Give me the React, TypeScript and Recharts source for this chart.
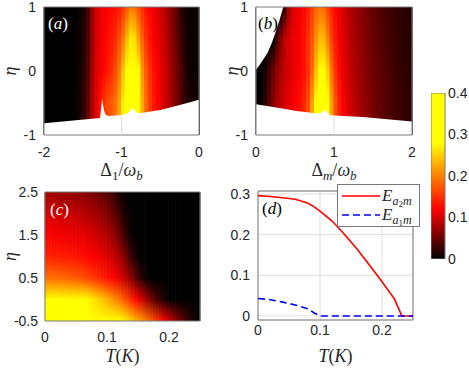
import React from "react"
import {
  BarChart, Bar, Cell, XAxis, YAxis, ComposedChart, Area, LineChart, Line,
  CartesianGrid, ReferenceLine, ReferenceArea,
} from "recharts"

// colour scale
const CMAP_VALUES = [0, 0.12, 0.28, 0.4]
const CMAP_COLORS = ["#000000", "#ff0000", "#ffff00", "#ffff00"]
const CB_TICKS = [0, 0.1, 0.2, 0.3, 0.4]

// (a) columns in Delta_1/omega_b, rows in eta
const A_X = [-1.975, -1.925, -1.875, -1.825, -1.775, -1.725, -1.675, -1.625, -1.575, -1.525, -1.475, -1.425, -1.375, -1.325, -1.275, -1.225, -1.175, -1.125, -1.075, -1.025, -0.975, -0.925, -0.875, -0.825, -0.775, -0.725, -0.675, -0.625, -0.575, -0.525, -0.475, -0.425, -0.375, -0.325, -0.275, -0.225, -0.175, -0.125, -0.075, -0.025]
const A_ETA = [1, 0.5, 0, -0.5]
const A_ROW_1 = [0, 0, 0, 0, 0, 0, 0, 0, 0.002, 0.006, 0.015, 0.035, 0.07, 0.095, 0.108, 0.115, 0.12, 0.123, 0.127, 0.135, 0.15, 0.172, 0.195, 0.19, 0.17, 0.148, 0.13, 0.12, 0.112, 0.104, 0.095, 0.085, 0.07, 0.055, 0.04, 0.02, 0.01, 0.005, 0.004, 0.008]
const A_ROW_05 = [0, 0, 0, 0, 0, 0, 0, 0, 0.003, 0.008, 0.018, 0.038, 0.072, 0.097, 0.11, 0.118, 0.126, 0.134, 0.146, 0.166, 0.196, 0.235, 0.27, 0.26, 0.22, 0.18, 0.15, 0.132, 0.12, 0.11, 0.1, 0.09, 0.076, 0.06, 0.045, 0.028, 0.014, 0.006, 0.004, 0.006]
const A_ROW_0 = [0, 0, 0, 0, 0, 0, 0, 0, 0.004, 0.01, 0.02, 0.042, 0.075, 0.1, 0.113, 0.123, 0.135, 0.148, 0.165, 0.195, 0.24, 0.3, 0.36, 0.34, 0.28, 0.215, 0.175, 0.148, 0.13, 0.118, 0.107, 0.095, 0.082, 0.067, 0.052, 0.035, 0.02, 0.008, 0.004, 0.005]
const A_ROW_M05 = [0, 0, 0, 0, 0, 0, 0, 0, 0.005, 0.012, 0.025, 0.048, 0.08, 0.105, 0.125, 0.15, 0.165, 0.175, 0.19, 0.22, 0.27, 0.33, 0.4, 0.38, 0.3, 0.23, 0.185, 0.155, 0.135, 0.12, 0.108, 0.096, 0.083, 0.068, 0.053, 0.037, 0.022, 0.015, 0.012, 0.01]
const A_EDGE_X = [-2, -1.277, -1.262, -1.25, -1.238, -1.222, -1.204, -1.16, -1.0, -0.925, -0.89, -0.86, -0.83, -0.8, -0.774, -0.5, -0.2, 0]
const A_EDGE_ETA = [-0.817, -0.733, -0.56, -0.43, -0.53, -0.63, -0.686, -0.702, -0.686, -0.665, -0.625, -0.575, -0.615, -0.65, -0.66, -0.608, -0.514, -0.451]

// (b) columns in Delta_m/omega_b
const B_X = [0.025, 0.075, 0.125, 0.175, 0.225, 0.275, 0.325, 0.375, 0.425, 0.475, 0.525, 0.575, 0.625, 0.675, 0.725, 0.775, 0.825, 0.875, 0.925, 0.975, 1.025, 1.075, 1.125, 1.175, 1.225, 1.275, 1.325, 1.375, 1.425, 1.475, 1.525, 1.575, 1.625, 1.675, 1.725, 1.775, 1.825, 1.875, 1.925, 1.975]
const B_ETA = [1, 0.5, 0, -0.5]
const B_ROW_1 = [0, 0, 0, 0, 0, 0, 0, 0.02, 0.075, 0.1, 0.11, 0.115, 0.125, 0.14, 0.16, 0.18, 0.19, 0.185, 0.16, 0.14, 0.12, 0.11, 0.1, 0.09, 0.082, 0.075, 0.068, 0.062, 0.056, 0.05, 0.045, 0.04, 0.036, 0.032, 0.029, 0.026, 0.023, 0.02, 0.018, 0.016]
const B_ROW_05 = [0, 0, 0, 0, 0, 0.03, 0.065, 0.09, 0.1, 0.108, 0.115, 0.122, 0.132, 0.15, 0.175, 0.21, 0.235, 0.235, 0.2, 0.16, 0.135, 0.118, 0.105, 0.095, 0.086, 0.078, 0.071, 0.065, 0.059, 0.053, 0.048, 0.043, 0.039, 0.035, 0.031, 0.028, 0.025, 0.022, 0.02, 0.018]
const B_ROW_0 = [0, 0, 0.01, 0.03, 0.05, 0.068, 0.082, 0.093, 0.1, 0.107, 0.113, 0.12, 0.13, 0.15, 0.185, 0.24, 0.3, 0.31, 0.25, 0.19, 0.15, 0.125, 0.11, 0.1, 0.09, 0.082, 0.075, 0.068, 0.062, 0.056, 0.05, 0.046, 0.042, 0.038, 0.034, 0.03, 0.027, 0.024, 0.021, 0.019]
const B_ROW_M05 = [0, 0.005, 0.02, 0.04, 0.06, 0.078, 0.09, 0.1, 0.108, 0.115, 0.122, 0.13, 0.145, 0.17, 0.22, 0.3, 0.38, 0.4, 0.32, 0.22, 0.17, 0.14, 0.12, 0.107, 0.097, 0.088, 0.08, 0.073, 0.066, 0.06, 0.054, 0.049, 0.044, 0.04, 0.036, 0.032, 0.029, 0.026, 0.023, 0.021]
const B_LO_X = [0, 0.3, 0.52, 0.76, 0.82, 0.86, 0.885, 0.91, 0.95, 1.0, 1.37, 2]
const B_LO_ETA = [-0.52, -0.58, -0.624, -0.66, -0.665, -0.63, -0.608, -0.64, -0.69, -0.695, -0.72, -0.79]
const B_TOP_X = [0, 0.05, 0.1, 0.15, 0.2, 0.25, 0.3, 0.35]
const B_TOP_ETA = [0.02, 0.1, 0.19, 0.29, 0.43, 0.6, 0.79, 1]

// (c) columns in T(K)
const C_X = [0.0025, 0.0075, 0.0125, 0.0175, 0.0225, 0.0275, 0.0325, 0.0375, 0.0425, 0.0475, 0.0525, 0.0575, 0.0625, 0.0675, 0.0725, 0.0775, 0.0825, 0.0875, 0.0925, 0.0975, 0.1025, 0.1075, 0.1125, 0.1175, 0.1225, 0.1275, 0.1325, 0.1375, 0.1425, 0.1475, 0.1525, 0.1575, 0.1625, 0.1675, 0.1725, 0.1775, 0.1825, 0.1875, 0.1925, 0.1975, 0.2025, 0.2075, 0.2125, 0.2175, 0.2225, 0.2275, 0.2325, 0.2375, 0.2425, 0.2475]
const C_ETA = [2.5, 2, 1.5, 1, 0.5, 0, -0.5]
const C_ROW_25 = [0.075, 0.075, 0.074, 0.073, 0.072, 0.071, 0.07, 0.069, 0.068, 0.067, 0.065, 0.064, 0.062, 0.06, 0.058, 0.056, 0.053, 0.05, 0.046, 0.042, 0.037, 0.031, 0.024, 0.016, 0.009, 0.004, 0.001, 0, 0, 0, 0, 0, 0, 0, 0, 0, 0, 0, 0, 0, 0, 0, 0, 0, 0, 0, 0, 0, 0, 0]
const C_ROW_2 = [0.1, 0.1, 0.099, 0.098, 0.097, 0.096, 0.095, 0.094, 0.093, 0.092, 0.09, 0.088, 0.086, 0.084, 0.082, 0.079, 0.076, 0.072, 0.068, 0.063, 0.058, 0.052, 0.044, 0.035, 0.025, 0.016, 0.009, 0.004, 0.001, 0, 0, 0, 0, 0, 0, 0, 0, 0, 0, 0, 0, 0, 0, 0, 0, 0, 0, 0, 0, 0]
const C_ROW_15 = [0.118, 0.118, 0.117, 0.117, 0.116, 0.115, 0.114, 0.113, 0.112, 0.111, 0.11, 0.108, 0.107, 0.105, 0.103, 0.1, 0.097, 0.094, 0.09, 0.086, 0.081, 0.075, 0.068, 0.058, 0.046, 0.033, 0.02, 0.01, 0.004, 0.001, 0, 0, 0, 0, 0, 0, 0, 0, 0, 0, 0, 0, 0, 0, 0, 0, 0, 0, 0, 0]
const C_ROW_1 = [0.14, 0.14, 0.139, 0.139, 0.138, 0.137, 0.136, 0.135, 0.134, 0.132, 0.131, 0.129, 0.127, 0.125, 0.122, 0.12, 0.117, 0.114, 0.11, 0.106, 0.102, 0.097, 0.091, 0.084, 0.075, 0.063, 0.048, 0.033, 0.02, 0.01, 0.004, 0.001, 0, 0, 0, 0, 0, 0, 0, 0, 0, 0, 0, 0, 0, 0, 0, 0, 0, 0]
const C_ROW_05 = [0.19, 0.19, 0.189, 0.188, 0.187, 0.186, 0.184, 0.182, 0.18, 0.178, 0.175, 0.172, 0.169, 0.165, 0.161, 0.157, 0.152, 0.147, 0.142, 0.136, 0.13, 0.124, 0.118, 0.111, 0.104, 0.095, 0.085, 0.072, 0.057, 0.042, 0.028, 0.016, 0.008, 0.003, 0.001, 0, 0, 0, 0, 0, 0, 0, 0, 0, 0, 0, 0, 0, 0, 0]
const C_ROW_0 = [0.31, 0.31, 0.31, 0.309, 0.308, 0.306, 0.304, 0.302, 0.299, 0.296, 0.292, 0.288, 0.283, 0.278, 0.272, 0.266, 0.259, 0.252, 0.244, 0.236, 0.228, 0.219, 0.21, 0.2, 0.19, 0.178, 0.165, 0.152, 0.138, 0.124, 0.11, 0.096, 0.082, 0.068, 0.055, 0.043, 0.032, 0.022, 0.013, 0.006, 0.002, 0, 0, 0, 0, 0, 0, 0, 0, 0]
const C_ROW_M05 = [0.38, 0.38, 0.379, 0.378, 0.377, 0.376, 0.374, 0.372, 0.37, 0.367, 0.364, 0.361, 0.357, 0.353, 0.349, 0.344, 0.339, 0.333, 0.327, 0.321, 0.314, 0.307, 0.299, 0.291, 0.283, 0.274, 0.265, 0.255, 0.245, 0.234, 0.223, 0.212, 0.2, 0.188, 0.175, 0.162, 0.149, 0.136, 0.122, 0.108, 0.095, 0.082, 0.069, 0.056, 0.045, 0.034, 0.024, 0.015, 0.008, 0.003]

// (d) entanglement vs temperature
const D_T = [0, 0.02, 0.04, 0.06, 0.08, 0.09, 0.1, 0.12, 0.14, 0.16, 0.18, 0.2, 0.22, 0.232, 0.25]
const D_A2M = [0.296, 0.294, 0.291, 0.287, 0.278, 0.269, 0.258, 0.233, 0.2, 0.164, 0.125, 0.084, 0.042, 0, 0]
const D_A1M = [0.043, 0.04, 0.034, 0.027, 0.018, 0.008, 0, 0, 0, 0, 0, 0, 0, 0, 0]

const A_XTICKS = [-2, -1, 0]
const AB_YTICKS = [-1, 0, 1]
const B_XTICKS = [0, 1, 2]
const C_XTICKS = [0, 0.1, 0.2]
const C_YTICKS = [-0.5, 0.5, 1.5, 2.5]
const D_XTICKS = [0, 0.1, 0.2]
const D_YTICKS = [0, 0.1, 0.2, 0.3]

const SANS = "'Liberation Sans', Arial, sans-serif"
const SERIF = "'Liberation Serif', 'Times New Roman', serif"
const INK = "#262626"
const FRAME = "#7a7a7a"
const GRID = "#dedede"
const TICK = { fontSize: 14, fill: INK, fontFamily: SANS }

const PAD_L = 50
const PAD_T = 10
const PAD_R = 4
const PAD_B = 52

function hexToRgb(h: string) {
  return [1, 3, 5].map((k) => parseInt(h.slice(k, k + 2), 16))
}

function heat(v: number) {
  const last = CMAP_VALUES.length - 1
  const c = Math.max(CMAP_VALUES[0], Math.min(v, CMAP_VALUES[last]))
  let i = 0
  while (i < last - 1 && c > CMAP_VALUES[i + 1]) i++
  const t = (c - CMAP_VALUES[i]) / (CMAP_VALUES[i + 1] - CMAP_VALUES[i])
  const a = hexToRgb(CMAP_COLORS[i])
  const b = hexToRgb(CMAP_COLORS[i + 1])
  const rgb = a.map((p, k) => Math.round(p + (b[k] - p) * t))
  return `rgb(${rgb.join(",")})`
}

function XLabel(props: any) {
  const { viewBox, kind, drop } = props
  const x = viewBox.x + viewBox.width / 2
  const y = viewBox.y + drop
  let parts: React.ReactNode
  if (kind === "T") {
    parts = [
      <tspan key="1" fontStyle="italic">T</tspan>,
      <tspan key="2">(</tspan>,
      <tspan key="3" fontStyle="italic">K</tspan>,
      <tspan key="4">)</tspan>,
    ]
  } else {
    parts = [
      <tspan key="1">Δ</tspan>,
      <tspan key="2" fontSize={13} dy={4} fontStyle={kind === "m" ? "italic" : "normal"}>{kind === "m" ? "m" : "1"}</tspan>,
      <tspan key="3" dy={-4}>/</tspan>,
      <tspan key="4" fontStyle="italic">ω</tspan>,
      <tspan key="5" fontSize={13} dy={4} fontStyle="italic">b</tspan>,
    ]
  }
  return (
    <text x={x} y={y} textAnchor="middle" fontFamily={SERIF} fontSize={18} fill={INK}>
      {parts}
    </text>
  )
}

function EtaLabel(props: any) {
  const { viewBox, left } = props
  const x = viewBox.x + left
  const y = viewBox.y + viewBox.height / 2
  return (
    <text x={x} y={y} transform={`rotate(-90, ${x}, ${y})`} textAnchor="middle"
      fontFamily={SERIF} fontStyle="italic" fontSize={18} fill={INK}>η</text>
  )
}

function HeatMap({ id, cols, etas, rows, yDomain, w, h }: any) {
  const [y0, y1] = yDomain
  const data = cols.map((x: number) => ({ x, span: [y0, y1] }))
  return (
    <BarChart width={w + PAD_L + PAD_R} height={h + PAD_T + PAD_B} data={data}
      margin={{ top: PAD_T, right: PAD_R, left: PAD_L, bottom: PAD_B }} barCategoryGap={0} barGap={0}>
      <defs>
        {cols.map((_: number, i: number) => (
          <linearGradient key={i} id={`${id}${i}`} x1="0" y1="0" x2="0" y2="1">
            {etas.map((eta: number, r: number) => (
              <stop key={r} offset={(y1 - eta) / (y1 - y0)} stopColor={heat(rows[r][i])} />
            ))}
          </linearGradient>
        ))}
      </defs>
      <XAxis dataKey="x" type="category" hide />
      <YAxis type="number" domain={yDomain} hide allowDataOverflow />
      <Bar dataKey="span" isAnimationActive={false}>
        {cols.map((_: number, i: number) => (
          <Cell key={i} fill={`url(#${id}${i})`} stroke={`url(#${id}${i})`} strokeWidth={1} />
        ))}
      </Bar>
    </BarChart>
  )
}

function xAxisProps(domain: number[], ticks: number[], margin: number) {
  return {
    type: "number" as const, dataKey: "x", domain, ticks, interval: 0 as const, height: PAD_B,
    tickSize: 0, tickMargin: margin, tickLine: false, axisLine: false, tick: TICK, allowDataOverflow: true,
  }
}

function yAxisProps(domain: number[], ticks: number[], margin: number) {
  return {
    type: "number" as const, domain, ticks, interval: 0 as const, width: PAD_L,
    tickSize: 0, tickMargin: margin, tickLine: false, axisLine: false, tick: TICK, allowDataOverflow: true,
  }
}

function Slot({ left, top, children }: any) {
  return <div style={{ position: "absolute", left: left - PAD_L, top: top - PAD_T }}>{children}</div>
}

function Layer({ children }: any) {
  return <div style={{ position: "absolute", left: 0, top: 0 }}>{children}</div>
}

function pick(xs: number[], ys: number[], x: number) {
  const i = xs.indexOf(x)
  return i < 0 ? null : ys[i]
}

function PanelA() {
  const w = 155, h = 128
  const edge = A_EDGE_X.map((x, i) => ({ x, lo: A_EDGE_ETA[i] }))
  return (
    <Slot left={44} top={7}>
      <Layer>
        <HeatMap id="ga" cols={A_X} etas={A_ETA} rows={[A_ROW_1, A_ROW_05, A_ROW_0, A_ROW_M05]} yDomain={[-1, 1]} w={w} h={h} />
      </Layer>
      <Layer>
        <ComposedChart width={w + PAD_L + PAD_R} height={h + PAD_T + PAD_B} data={edge}
          margin={{ top: PAD_T, right: PAD_R, left: 0, bottom: 0 }}>
          <XAxis {...xAxisProps([-2, 0], A_XTICKS, 12)} label={<XLabel kind="1" drop={41} />} />
          <YAxis {...yAxisProps([-1, 1], AB_YTICKS, 8)} label={<EtaLabel left={22} />} />
          <Area type="linear" dataKey={(d: any) => [-1, d.lo]} fill="#ffffff" fillOpacity={1} stroke="none"
            dot={false} activeDot={false} isAnimationActive={false} />
          <ReferenceLine segment={[{ x: -1, y: -1 }, { x: -1, y: pick(A_EDGE_X, A_EDGE_ETA, -1) as number }]} stroke={GRID} />
          <ReferenceArea x1={-2} x2={0} y1={-1} y2={1} fill="none" stroke={FRAME} />
        </ComposedChart>
      </Layer>
    </Slot>
  )
}

function PanelB() {
  const w = 156, h = 128
  const xs = Array.from(new Set([...B_LO_X, ...B_TOP_X])).sort((p, q) => p - q)
  const edge = xs.map((x) => ({ x, lo: pick(B_LO_X, B_LO_ETA, x), hi: pick(B_TOP_X, B_TOP_ETA, x) }))
  return (
    <Slot left={256} top={7}>
      <Layer>
        <HeatMap id="gb" cols={B_X} etas={B_ETA} rows={[B_ROW_1, B_ROW_05, B_ROW_0, B_ROW_M05]} yDomain={[-1, 1]} w={w} h={h} />
      </Layer>
      <Layer>
        <ComposedChart width={w + PAD_L + PAD_R} height={h + PAD_T + PAD_B} data={edge}
          margin={{ top: PAD_T, right: PAD_R, left: 0, bottom: 0 }}>
          <XAxis {...xAxisProps([0, 2], B_XTICKS, 12)} label={<XLabel kind="m" drop={41} />} />
          <YAxis {...yAxisProps([-1, 1], AB_YTICKS, 8)} label={<EtaLabel left={32} />} />
          <Area type="linear" dataKey={(d: any) => (d.lo == null ? null : [-1, d.lo])} connectNulls fill="#ffffff"
            fillOpacity={1} stroke="none" dot={false} activeDot={false} isAnimationActive={false} />
          <Area type="linear" dataKey={(d: any) => (d.hi == null ? null : [d.hi, 1])} connectNulls fill="#ffffff"
            fillOpacity={1} stroke="none" dot={false} activeDot={false} isAnimationActive={false} />
          <ReferenceLine segment={[{ x: 1, y: -1 }, { x: 1, y: pick(B_LO_X, B_LO_ETA, 1) as number }]} stroke={GRID} />
          <ReferenceArea x1={0} x2={2} y1={-1} y2={1} fill="none" stroke={FRAME} />
        </ComposedChart>
      </Layer>
    </Slot>
  )
}

function PanelC() {
  const w = 155, h = 129
  const pts = C_X.map((x) => ({ x }))
  return (
    <Slot left={45} top={192}>
      <Layer>
        <HeatMap id="gc" cols={C_X} etas={C_ETA}
          rows={[C_ROW_25, C_ROW_2, C_ROW_15, C_ROW_1, C_ROW_05, C_ROW_0, C_ROW_M05]} yDomain={[-0.5, 2.5]} w={w} h={h} />
      </Layer>
      <Layer>
        <ComposedChart width={w + PAD_L + PAD_R} height={h + PAD_T + PAD_B} data={pts}
          margin={{ top: PAD_T, right: PAD_R, left: 0, bottom: 0 }}>
          <XAxis {...xAxisProps([0, 0.25], C_XTICKS, 11)} label={<XLabel kind="T" drop={41} />} />
          <YAxis {...yAxisProps([-0.5, 2.5], C_YTICKS, 7)} label={<EtaLabel left={21} />} />
          <ReferenceArea x1={0} x2={0.25} y1={-0.5} y2={2.5} fill="none" stroke={FRAME} />
        </ComposedChart>
      </Layer>
    </Slot>
  )
}

function PanelD() {
  const w = 155, h = 129
  const data = D_T.map((x, i) => ({ x, a2: D_A2M[i], a1: D_A1M[i] }))
  return (
    <Slot left={258} top={191}>
      <Layer>
        <LineChart width={w + PAD_L + PAD_R} height={h + PAD_T + PAD_B} data={data}
          margin={{ top: PAD_T, right: PAD_R, left: 0, bottom: 0 }}>
          <CartesianGrid stroke={GRID} />
          <XAxis {...xAxisProps([0, 0.25], D_XTICKS, 5)} label={<XLabel kind="T" drop={42} />} />
          <YAxis {...yAxisProps([-0.01, 0.3075], D_YTICKS, 8)} />
          <Line type="linear" dataKey="a2" stroke="#ff0000" strokeWidth={1.6} dot={false} isAnimationActive={false} />
          <Line type="linear" dataKey="a1" stroke="#0000ff" strokeWidth={1.6} strokeDasharray="7 4" dot={false} isAnimationActive={false} />
          <ReferenceArea x1={0} x2={0.25} y1={-0.01} y2={0.3075} fill="none" stroke={FRAME} />
        </LineChart>
      </Layer>
    </Slot>
  )
}

function LegendD() {
  const entry = (y: number, sub: string) => (
    <text x={45} y={y} fontFamily={SERIF} fontSize={17} fill={INK}>
      <tspan fontStyle="italic">E</tspan>
      <tspan fontStyle="italic" fontSize={12} dy={4}>a</tspan>
      <tspan fontSize={9} dy={2}>{sub}</tspan>
      <tspan fontStyle="italic" fontSize={12} dy={-2}>m</tspan>
    </text>
  )
  return (
    <svg width={83} height={43} style={{ position: "absolute", left: 337, top: 184 }}>
      <rect x={0.5} y={0.5} width={82} height={42} fill="#ffffff" stroke={FRAME} />
      <line x1={5} x2={43} y1={12} y2={12} stroke="#ff0000" strokeWidth={1.6} />
      <line x1={5} x2={43} y1={31} y2={31} stroke="#0000ff" strokeWidth={1.6} strokeDasharray="7 4" />
      {entry(17, "2")}
      {entry(36, "1")}
    </svg>
  )
}

function ColorBar() {
  const lo = CMAP_VALUES[0]
  const hi = CMAP_VALUES[CMAP_VALUES.length - 1]
  const data = [{ k: "cb", span: [lo, hi] }]
  // gradient runs top (high values) to bottom, so stops go from the top of the scale down
  const stops = [...CMAP_VALUES].reverse()
  return (
    <div style={{ position: "absolute", left: 431, top: 81 }}>
      <BarChart width={44} height={190} data={data} margin={{ top: 12, right: 0, left: 0, bottom: 12 }} barCategoryGap={0}>
        <defs>
          <linearGradient id="cbgrad" x1="0" y1="0" x2="0" y2="1">
            {stops.map((v, i) => (
              <stop key={i} offset={(hi - v) / (hi - lo)} stopColor={heat(v)} />
            ))}
          </linearGradient>
        </defs>
        <XAxis dataKey="k" type="category" hide />
        <YAxis orientation="right" type="number" domain={[0, 0.4]} ticks={CB_TICKS} interval={0} width={30}
          tickSize={0} tickMargin={3} tickLine={false} axisLine={false} tick={TICK} allowDataOverflow />
        <Bar dataKey="span" isAnimationActive={false}>
          <Cell fill="url(#cbgrad)" stroke={FRAME} strokeWidth={1} />
        </Bar>
      </BarChart>
    </div>
  )
}

function Tag({ text, left, top, color }: any) {
  return (
    <div style={{ position: "absolute", left, top, fontFamily: SERIF, fontSize: 17, lineHeight: "17px", color }}>
      (<span style={{ fontStyle: "italic" }}>{text}</span>)
    </div>
  )
}

export default function App() {
  return (
    <div style={{ position: "absolute", left: 0, top: 0, width: 469, height: 369, background: "#ffffff", overflow: "hidden" }}>
      <PanelA />
      <PanelB />
      <PanelC />
      <PanelD />
      <LegendD />
      <ColorBar />
      <Tag text="a" left={48} top={15} color="#ffffff" />
      <Tag text="b" left={258} top={15} color="#000000" />
      <Tag text="c" left={50} top={201} color="#ffffff" />
      <Tag text="d" left={262} top={200} color="#000000" />
    </div>
  )
}
